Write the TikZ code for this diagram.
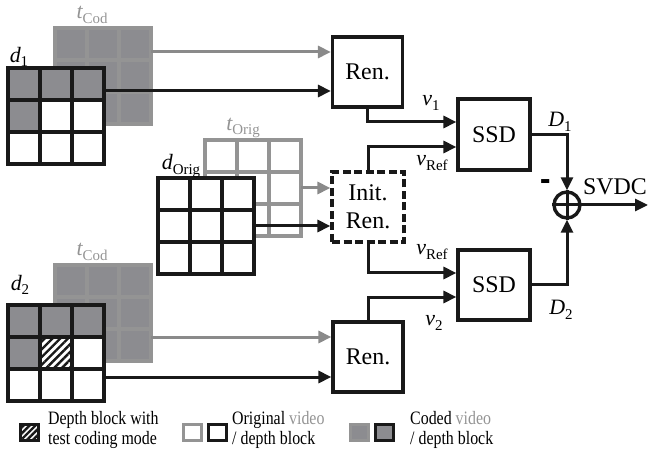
\documentclass[tikz,border=0pt]{standalone}
\usepackage{fontspec}
\setmainfont{Liberation Serif}
\newfontfamily\legfont[FakeStretch=0.84]{Liberation Serif}
\usetikzlibrary{arrows.meta,patterns.meta,calc}

\definecolor{ink}{RGB}{25,25,25}
\definecolor{lgray}{RGB}{148,148,148}
\definecolor{cgray}{RGB}{140,140,144}
\definecolor{agray}{RGB}{138,138,138}

% italic symbol with an upright subscript
\newcommand\sym[2]{{\fontsize{22}{22}\selectfont\itshape #1}\raisebox{-4.5bp}{\fontsize{15}{15}\selectfont #2}}

% 3x3 block outline, cells of 32bp, top-left corner at (#1,#2)
\newcommand\cellgrid[3]{%
  \foreach \k in {0,1,2,3}{%
    \draw[#3, line width=3.2bp, line cap=rect] (#1+32*\k,#2) -- ++(0,96);
    \draw[#3, line width=3.2bp, line cap=rect] (#1,#2+32*\k) -- ++(96,0);
  }}

\tikzset{
  gridbox/.style={rectangle, minimum width=96bp, minimum height=96bp, inner sep=0pt, outer sep=0pt},
  blockbox/.style={draw=ink, line width=3.2bp, minimum width=70bp, minimum height=70bp,
    inner sep=0pt, font=\fontsize{24}{28}\selectfont, align=center},
  arr/.style={draw=ink, line width=3bp, -{Triangle[length=13bp,width=12bp]}},
  garr/.style={arr, draw=agray},
  lbl/.style={inner sep=0pt},
  legbox/.style={rectangle, line width=3bp, minimum width=18bp, minimum height=16bp, inner sep=0pt},
  legtext/.style={inner sep=0pt, anchor=north west, align=left, font=\legfont\fontsize{19}{20.5}\selectfont},
}

\begin{document}
\begin{tikzpicture}[x=1bp, y=-1bp]
\useasboundingbox (0,0) rectangle (649,461);

% ---- upper coded texture / depth pair
\node[gridbox, fill=cgray] (tc1) at (103,76) {};
\cellgrid{55}{28}{lgray}
\node[gridbox, fill=white] (d1) at (56,116) {};
\fill[cgray] (8,68) rectangle ++(96,32);
\fill[cgray] (8,100) rectangle ++(32,32);
\cellgrid{8}{68}{ink}
\node[lbl, text=lgray] (ltc1) at (92,15) {\sym{t}{Cod}};
\node[lbl] (ld1) at (19,57) {\sym{d}{1}};

% ---- original texture / depth pair
\node[gridbox, fill=white] (to) at (253,188) {};
\cellgrid{205}{140}{lgray}
\node[gridbox, fill=white] (do) at (206,226) {};
\cellgrid{158}{178}{ink}
\node[lbl, text=lgray] (lto) at (243,128) {\sym{t}{Orig}};
\node[lbl] (ldo) at (181,166) {\sym{d}{Orig}};

% ---- lower coded texture / depth pair with the block under test
\node[gridbox, fill=cgray] (tc2) at (103,313) {};
\cellgrid{55}{265}{lgray}
\node[gridbox, fill=white] (d2) at (56,353) {};
\fill[cgray] (8,305) rectangle ++(96,32);
\fill[cgray] (8,337) rectangle ++(32,32);
\fill[pattern={Lines[angle=45,distance=5.5bp,line width=2.4bp]}, pattern color=ink] (40,337) rectangle ++(32,32);
\cellgrid{8}{305}{ink}
\node[lbl, text=lgray] (ltc2) at (92,252) {\sym{t}{Cod}};
\node[lbl] (ld2) at (20,285) {\sym{d}{2}};

% ---- processing blocks
\node[blockbox] (ren1) at (367.5,72) {Ren.};
\node[blockbox, dash pattern=on 8bp off 3.5bp, minimum width=72bp] (init) at (368,207) {Init.\\Ren.};
\node[blockbox] (ren2) at (368,357) {Ren.};
\node[blockbox, minimum width=72bp, minimum height=71bp] (ssd1) at (494,134.5) {SSD};
\node[blockbox, minimum width=72bp, minimum height=70bp] (ssd2) at (494,285) {SSD};
\node[circle, draw=ink, line width=3.4bp, minimum size=26bp, inner sep=0pt] (sum) at (567,205) {};
\draw[ink, line width=3bp] (sum.north) -- (sum.south) (sum.west) -- (sum.east);

% ---- inputs to the renderers
\coordinate (a1) at ([yshift=-24bp]tc1.north east);
\coordinate (a2) at ([yshift=-23bp]d1.north east);
\coordinate (a5) at ([yshift=24bp]tc2.south east);
\coordinate (a6) at ([yshift=24bp]d2.south east);
\draw[garr] (a1) -- (a1 -| ren1.west);
\draw[arr]  (a2) -- (a2 -| ren1.west);
\draw[garr] (to.east) -- (to.east -| init.west);
\draw[arr]  (do.east) -- (do.east -| init.west);
\draw[garr] (a5) -- (a5 -| ren2.west);
\draw[arr]  (a6) -- (a6 -| ren2.west);

% ---- rendered views to the SSD blocks
\draw[arr] (ren1.south) |- ([yshift=12.5bp]ssd1.west);
\draw[arr] (init.north) |- ([yshift=-12.5bp]ssd1.west);
\draw[arr] (init.south) |- ([yshift=12bp]ssd2.west);
\draw[arr] (ren2.north) |- ([yshift=-12bp]ssd2.west);

% ---- distortion difference
\draw[arr] (ssd1.east) -| (sum.north);
\draw[arr] (ssd2.east) -| (sum.south);
\coordinate (out) at (648,205);
\draw[arr] (sum.east) -- (out);

\node[lbl] (lv1) at (431,103) {\sym{v}{1}};
\node[lbl] (lvr1) at (432,163) {\sym{v}{Ref}};
\node[lbl] (lvr2) at (432,252) {\sym{v}{Ref}};
\node[lbl] (lv2) at (434,323) {\sym{v}{2}};
\node[lbl] (lD1) at (560,122) {\sym{D}{1}};
\node[lbl] (lD2) at (561,310) {\sym{D}{2}};
\node[lbl, font=\fontsize{24}{24}\selectfont] (lsvdc) at (615,187) {SVDC};
\node[lbl, font=\fontsize{26}{26}\selectfont\bfseries] (lminus) at (546,186) {\scalebox{1.2}[1.8]{-}};

% ---- legend
\node[legbox, draw=ink, preaction={fill=white},
      pattern={Lines[angle=45,distance=4.2bp,line width=2.4bp]}, pattern color=ink] (lg1) at (29.5,432) {};
\node[legtext] (lt1) at (48,411) {Depth block with\\test coding mode};
\node[legbox, draw=lgray, fill=white] (lg2) at (192.5,432) {};
\node[legbox, draw=ink, fill=white] (lg3) at (217.5,432) {};
\node[legtext] (lt2) at (232,411) {Original \textcolor{lgray}{video}\\/ depth block};
\node[legbox, draw=lgray, fill=cgray] (lg4) at (359.5,432) {};
\node[legbox, draw=ink, fill=cgray] (lg5) at (384.5,432) {};
\node[legtext] (lt3) at (410,411) {Coded \textcolor{lgray}{video}\\/ depth block};
\end{tikzpicture}
\end{document}
